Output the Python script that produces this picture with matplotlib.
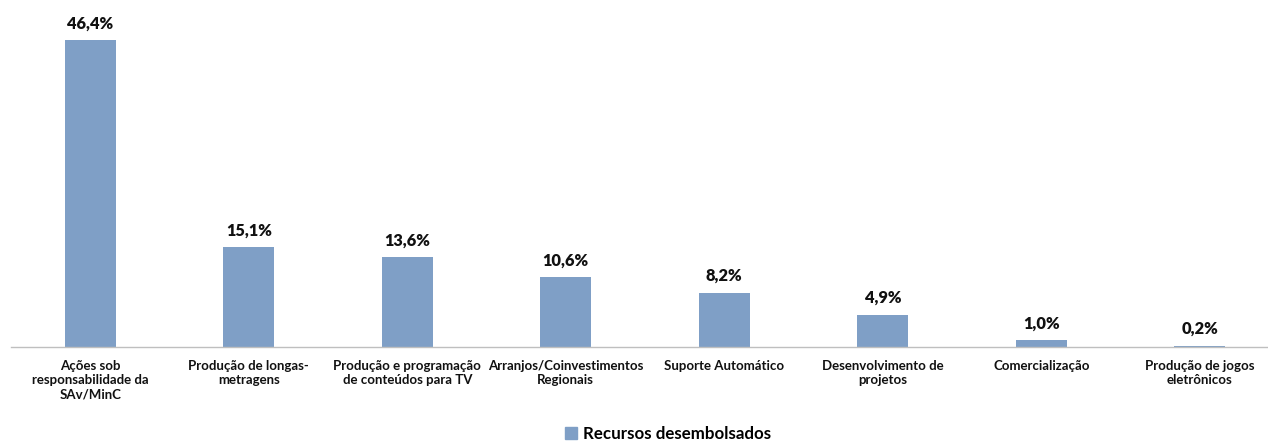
import matplotlib
matplotlib.use("Agg")
import matplotlib.pyplot as plt
from matplotlib.patches import Patch

categories = ["Ações sob\nresponsabilidade da\nSAv/MinC", "Produção de longas-\nmetragens",
              "Produção e programação\nde conteúdos para TV", "Arranjos/Coinvestimentos\nRegionais",
              "Suporte Automático", "Desenvolvimento de\nprojetos", "Comercialização",
              "Produção de jogos\neletrônicos"]
values = [46.4, 15.1, 13.6, 10.6, 8.2, 4.9, 1.0, 0.2]
value_labels = ["46,4%", "15,1%", "13,6%", "10,6%", "8,2%", "4,9%", "1,0%", "0,2%"]
series_name = "Recursos desembolsados"

plt.rcParams['font.family'] = ['Lato', 'DejaVu Sans']
color = "#7F9FC6"

fig = plt.figure(figsize=(12.68, 4.41), dpi=100)
ax = fig.add_axes([11/1268, 1 - 347/441, 1257/1268, 331/441])
x = list(range(len(values)))
ax.bar(x, values, width=0.32, color=color)
for xi, v, lab in zip(x, values, value_labels):
    ax.text(xi, v + 1.3, lab, ha="center", va="bottom", fontsize=11.8, fontweight="heavy", color="#111111")
ax.set_xlim(-0.5, 7.43)
ax.set_ylim(0, 50)
ax.set_yticks([])
ax.set_xticks(x)
ax.set_xticklabels(categories, fontsize=9.5, fontweight="bold", color="#111111", linespacing=1.25)
ax.tick_params(axis="x", length=0, pad=9)
for s in ["top", "right", "left"]:
    ax.spines[s].set_visible(False)
ax.spines["bottom"].set_color("#BFBFBF")
ax.spines["bottom"].set_linewidth(1.0)

fig.legend(handles=[Patch(color=color, label=series_name)], loc="center", bbox_to_anchor=(0.527, 1 - 434/441),
           frameon=False, prop={"weight": "bold", "size": 12.2}, handlelength=0.7, handleheight=0.7,
           handletextpad=0.4)
fig.savefig("out.png", dpi=100)
